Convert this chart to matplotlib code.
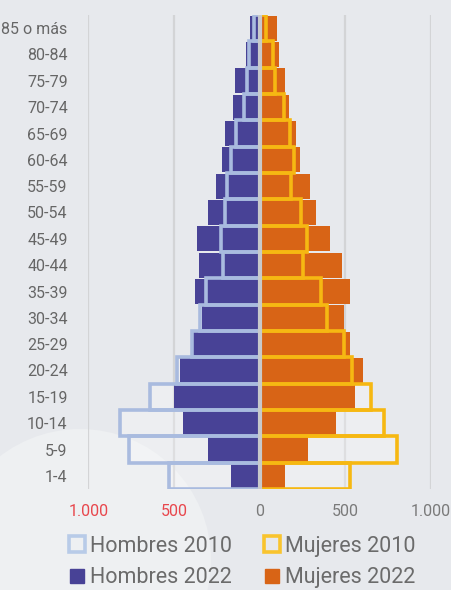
import matplotlib
matplotlib.use('Agg')
import matplotlib.pyplot as plt
from matplotlib.lines import Line2D
from matplotlib.patches import Ellipse

plt.rcParams['font.family'] = ['Roboto', 'DejaVu Sans']

grupos = ['1-4', '5-9', '10-14', '15-19', '20-24', '25-29', '30-34', '35-39',
          '40-44', '45-49', '50-54', '55-59', '60-64', '65-69', '70-74',
          '75-79', '80-84', '85 o más']
hombres_2010 = [530, 764, 816, 641, 486, 398, 350, 311, 216, 227, 200, 190,
                165, 140, 90, 72, 63, 33]
mujeres_2010 = [525, 799, 725, 647, 539, 492, 390, 356, 255, 278, 243, 185,
                200, 177, 140, 87, 77, 35]
hombres_2022 = [169, 303, 450, 500, 466, 390, 340, 379, 354, 367, 303, 253,
                218, 204, 157, 146, 82, 58]
mujeres_2022 = [148, 284, 443, 554, 602, 529, 492, 529, 480, 408, 330, 296,
                237, 214, 169, 146, 111, 98]
xticks = [-1000, -500, 0, 500, 1000]
xticklabels = ['1.000', '500', '0', '500', '1.000']

c_h10 = '#a9bbdf'
c_m10 = '#f6b812'
c_h22 = '#484296'
c_m22 = '#d86416'
bg = '#e7e9ed'

fig = plt.figure(figsize=(4.52, 5.9), dpi=100, facecolor=bg)
# lighter round shape in the lower left corner, behind everything
fig.patches.append(Ellipse((80 / 452, 1 - 560 / 590), 262 / 452, 262 / 590,
                           transform=fig.transFigure, facecolor='#eef0f2',
                           edgecolor='none', zorder=-5))

ax = fig.add_axes([88.5 / 452, 1 - 489 / 590, (431 - 88.5) / 452, (489 - 15) / 590])
ax.set_facecolor('none')
ax.set_zorder(2)

y = list(range(len(grupos)))
neg_h10 = [-v for v in hombres_2010]
neg_h22 = [-v for v in hombres_2022]

for xv in [-1000, -500, 500, 1000]:
    ax.axvline(xv, color='#d3d4d6', lw=1.6, zorder=0)

# 2010 fill (slightly lighter), then 2022 bars, then 2010 outlines on top
ax.barh(y, neg_h10, height=1.0, color='white', alpha=0.25, lw=0, zorder=1)
ax.barh(y, mujeres_2010, height=1.0, color='white', alpha=0.25, lw=0, zorder=1)
ax.barh(y, neg_h22, height=0.94, color=c_h22, lw=0, zorder=2)
ax.barh(y, mujeres_2022, height=0.94, color=c_m22, lw=0, zorder=2)
ax.barh(y, neg_h10, height=1.0, facecolor='none', edgecolor=c_h10, lw=2.6, zorder=3)
ax.barh(y, mujeres_2010, height=1.0, facecolor='none', edgecolor=c_m10, lw=2.6, zorder=3)
ax.axvline(0, color='#c8c9cb', lw=3, zorder=4)

ax.set_xlim(-1000, 1000)
ax.set_ylim(-0.5, len(grupos) - 0.5)
ax.set_yticks(y)
ax.set_yticklabels(grupos, fontsize=11.5, color='#666666')
ax.set_xticks(xticks)
ax.set_xticklabels(xticklabels, fontsize=11.5, color='#7a7a7a')
for lab in ax.get_xticklabels()[:2]:
    lab.set_color('#e8474d')
ax.tick_params(axis='y', length=0, pad=15)
ax.tick_params(axis='x', length=0, pad=11)
for s in ax.spines.values():
    s.set_visible(False)

handles = [
    Line2D([], [], marker='s', ls='none', markersize=11, markerfacecolor='none',
           markeredgecolor='#b8cbe8', markeredgewidth=2.6),
    Line2D([], [], marker='s', ls='none', markersize=9.5, color=c_h22),
    Line2D([], [], marker='s', ls='none', markersize=11, markerfacecolor='none',
           markeredgecolor='#f9c42e', markeredgewidth=2.6),
    Line2D([], [], marker='s', ls='none', markersize=9.5, color=c_m22),
]
labels = ['Hombres 2010', 'Hombres 2022', 'Mujeres 2010', 'Mujeres 2022']
leg = fig.legend(handles, labels, loc='center', ncol=2,
                 bbox_to_anchor=(242 / 452, 1 - 562 / 590), frameon=False,
                 fontsize=15.5, labelcolor='#6b6b6b', handlelength=0.8,
                 handletextpad=0.2, columnspacing=1.45, labelspacing=0.5,
                 borderpad=0)

fig.savefig('out.png', dpi=100, facecolor=bg)
